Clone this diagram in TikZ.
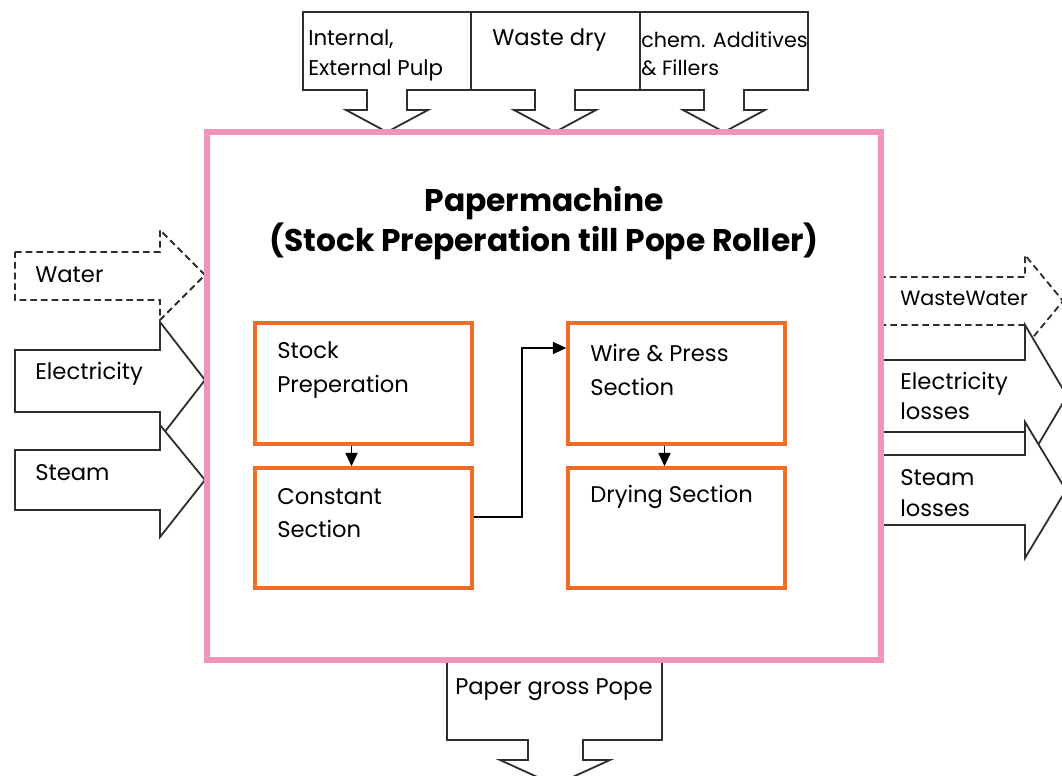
\documentclass[tikz,border=0pt]{standalone}
\usepackage{fontspec}
\setmainfont{Poppins}
\usetikzlibrary{arrows.meta,calc}
\definecolor{machinepink}{RGB}{240,148,190}
\definecolor{secorange}{RGB}{240,108,40}
\definecolor{outline}{RGB}{45,45,45}
\tikzset{
  flow/.style={draw=outline, line width=1.35pt, fill=white, line join=miter},
  flowdash/.style={flow, dash pattern=on 5pt off 3pt},
  lbl/.style={inner sep=0pt, anchor=west, align=left, font=\fontsize{17}{23}\selectfont},
  smalllbl/.style={lbl, font=\fontsize{15.5}{20}\selectfont},
  seclbl/.style={lbl, font=\fontsize{17}{25}\selectfont},
  secbox/.style={draw=secorange, line width=2.6pt, minimum width=162.75pt,
                 minimum height=90.75pt, inner sep=0pt},
  link/.style={draw=black, line width=1.4pt, -{Triangle[length=10pt,width=9pt]}},
  titlelbl/.style={inner sep=0pt, align=center, font=\bfseries\fontsize{23.5}{30}\selectfont},
}
\begin{document}
\begin{tikzpicture}[x=0.75pt,y=-0.75pt]
  \useasboundingbox (0,0) rectangle (1062,775);

  % inputs from the top: boxes with a down arrow
  \draw[flow] (303,12) -- (471,12) -- (471,90) -- (407,90) -- (407,110) -- (428,110)
    -- (387,132) -- (346,110) -- (367,110) -- (367,90) -- (303,90) -- cycle;
  \draw[flow] (471,12) -- (640,12) -- (640,90) -- (575,90) -- (575,110) -- (596,110)
    -- (555,132) -- (514,110) -- (535,110) -- (535,90) -- (471,90) -- cycle;
  \draw[flow] (640,12) -- (808,12) -- (808,90) -- (744,90) -- (744,110) -- (765,110)
    -- (724,132) -- (683,110) -- (704,110) -- (704,90) -- (640,90) -- cycle;
  \node[lbl, font=\fontsize{16}{22.5}\selectfont] (t-pulp) at (308,55) {Internal,\\External Pulp};
  \node[lbl] (t-waste) at (492,40) {Waste dry};
  \node[lbl, font=\fontsize{15.5}{21}\selectfont] (t-chem) at (641,54) {chem. Additives\\\& Fillers};

  % inputs from the left
  \draw[flowdash] (15,252) -- (160,252) -- (160,230) -- (205,275) -- (160,320)
    -- (160,300) -- (15,300) -- cycle;
  \draw[flow] (15,350) -- (160,350) -- (160,322) -- (205,380) -- (160,438)
    -- (160,412) -- (15,412) -- cycle;
  \draw[flow] (15,450) -- (160,450) -- (160,425) -- (205,480) -- (160,537)
    -- (160,510) -- (15,510) -- cycle;
  \node[lbl] (t-water) at (35,275) {Water};
  \node[lbl] (t-elec) at (35,374) {Electricity};
  \node[lbl] (t-steam) at (35,473) {Steam};

  % outputs to the right
  \draw[flowdash] (879,277) -- (1025,277) -- (1025,255) -- (1063,301) -- (1025,347)
    -- (1025,325) -- (879,325) -- cycle;
  \draw[flow] (879,360) -- (1025,360) -- (1025,325) -- (1067,396) -- (1025,467)
    -- (1025,432) -- (879,432) -- cycle;
  \draw[flow] (879,455) -- (1025,455) -- (1025,422) -- (1066,490) -- (1025,558)
    -- (1025,525) -- (879,525) -- cycle;
  \node[smalllbl] (t-wwater) at (900,298) {WasteWater};
  \node[lbl] (t-eloss) at (900,396) {Electricity\\losses};
  \node[lbl] (t-sloss) at (900,493) {Steam\\losses};

  % output at the bottom
  \draw[flow] (447,662) -- (662,662) -- (662,740) -- (583,740) -- (583,760) -- (610,760)
    -- (555,785) -- (500,760) -- (528,760) -- (528,740) -- (447,740) -- cycle;
  \node[lbl] (t-paper) at (455,690) {Paper gross Pope};

  % machine title
  \node[titlelbl] (title) at (544,223) {Papermachine\\(Stock Preperation till Pope Roller)};

  % machine sections
  \node[secbox] (stock) at (363.5,383.5) {};
  \node[secbox, minimum height=90pt] (const) at (363.5,528) {};
  \node[secbox] (wire) at (676.5,383.5) {};
  \node[secbox, minimum height=90pt] (dry) at (676.5,528) {};
  \node[seclbl] (t-stock) at (277,370) {Stock\\Preperation};
  \node[seclbl] (t-const) at (277,513) {Constant\\Section};
  \node[seclbl] (t-wire) at (590,370) {Wire \& Press\\Section};
  \node[seclbl] (t-dry) at (590,497) {Drying Section};

  \draw[link] ($(stock.south)+(-12,0)$) -- ($(const.north)+(-12,0)$);
  \draw[link] ($(wire.south)+(-12,0)$) -- ($(dry.north)+(-12,0)$);
  \draw[link] ($(const.east)+(0,-11)$) -- ++(48,0) |- ($(wire.west)+(0,-35.5)$);

  % machine boundary
  \node[draw=machinepink, line width=3.8pt, minimum width=505.5pt, minimum height=396pt,
        inner sep=0pt] (machine) at (544,396) {};
\end{tikzpicture}
\end{document}
